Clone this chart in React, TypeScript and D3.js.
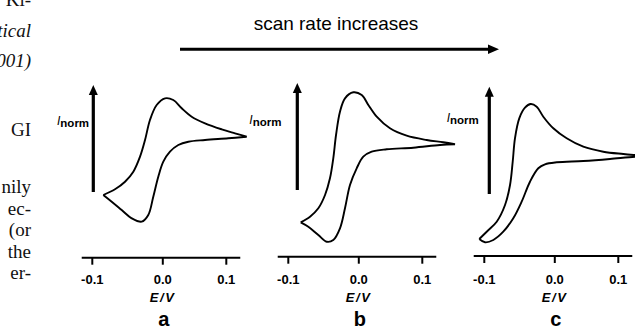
import React from 'react';
import * as d3 from 'd3';

type Pt = [number, number];

// E (V) vs normalised current
const aForward: Pt[] = [
  [-0.0844, -1.1], [-0.0678, -0.986], [-0.0536, -0.834], [-0.0418, -0.634], [-0.0323, -0.334],
  [-0.0252, 0], [-0.0182, 0.4], [-0.0087, 0.7], [0.0035, 0.834], [0.0165, 0.8], [0.0298, 0.634],
  [0.0455, 0.466], [0.0665, 0.334], [0.0928, 0.214], [0.1137, 0.134], [0.1321, 0.066],
];
const aReverse: Pt[] = [
  [0.1321, 0.066], [0.1031, 0.034], [0.0665, 0], [0.0402, -0.034], [0.0244, -0.1], [0.0113, -0.234],
  [0.0008, -0.434], [-0.0064, -0.734], [-0.0135, -1.134], [-0.0206, -1.5], [-0.0299, -1.634],
  [-0.0441, -1.566], [-0.0583, -1.4], [-0.0725, -1.234], [-0.0844, -1.1],
];
const bForward: Pt[] = [
  [-0.0824, -1.646], [-0.0692, -1.534], [-0.0574, -1.366], [-0.0479, -1.1], [-0.0409, -0.766],
  [-0.0362, -0.366], [-0.0323, 0.1], [-0.0267, 0.566], [-0.0196, 0.834], [-0.0078, 0.954],
  [0.0046, 0.9], [0.015, 0.7], [0.0282, 0.466], [0.0491, 0.234], [0.0754, 0.086], [0.1069, 0],
  [0.1331, -0.046], [0.1515, -0.086],
];
const bReverse: Pt[] = [
  [0.1515, -0.086], [0.1279, -0.1], [0.0858, -0.154], [0.0439, -0.186], [0.0203, -0.234],
  [0.0071, -0.334], [-0.003, -0.566], [-0.0125, -0.9], [-0.0196, -1.366], [-0.0267, -1.766],
  [-0.0362, -2.0], [-0.0455, -2.034], [-0.0574, -1.9], [-0.0716, -1.734], [-0.0824, -1.646],
];
const cForward: Pt[] = [
  [-0.1071, -1.98], [-0.0966, -1.834], [-0.0824, -1.634], [-0.0706, -1.3], [-0.0635, -0.9],
  [-0.0597, -0.434], [-0.0565, 0.034], [-0.0504, 0.434], [-0.0423, 0.646], [-0.0342, 0.72],
  [-0.0257, 0.666], [-0.0163, 0.466], [-0.0021, 0.234], [0.0187, 0.034], [0.0449, -0.134],
  [0.0764, -0.234], [0.1079, -0.28], [0.1342, -0.31], [0.15, -0.33],
];
const cReverse: Pt[] = [
  [0.15, -0.33], [0.1263, -0.334], [0.0869, -0.38], [0.0449, -0.42], [0.003, -0.446],
  [-0.0139, -0.486], [-0.0234, -0.566], [-0.0352, -0.834], [-0.047, -1.234], [-0.0589, -1.566],
  [-0.0731, -1.834], [-0.0872, -2.0], [-0.099, -2.046], [-0.1071, -1.98],
];

const tickValues = [-0.1, 0, 0.1];
const tickLabels = ['-0.1', '0.0', '0.1'];
const panelLabels = ['a', 'b', 'c'];
const title = 'scan rate increases';
// fragments of the page text cut off at the left edge
const sideText = ['Ki-', 'tical', '001)', 'GI', 'nily', 'ec-', '(or', 'the', 'er-'];

const curves = [
  [aForward, aReverse],
  [bForward, bReverse],
  [cForward, cReverse],
];

const panels = [
  { left: 92.3, axisY: 257.7, arrowX: 93.3, arrowTop: 85, arrowBottom: 192, labelX: 57, labelY: 125 },
  { left: 288.3, axisY: 256.7, arrowX: 297.3, arrowTop: 83, arrowBottom: 190, labelX: 249.3, labelY: 124 },
  { left: 484.3, axisY: 256, arrowX: 489.3, arrowTop: 86.7, arrowBottom: 194, labelX: 446.7, labelY: 122 },
];

const sideY = [6, 37, 67, 136, 193, 214.5, 236, 257.5, 279];
const sideItalic = [false, true, true, false, false, false, false, false, false];

const sans = '"Liberation Sans", Arial, sans-serif';

export default function App() {
  // shared piecewise scale: ticks in the scan are not evenly spaced
  const x = d3.scaleLinear().domain([-0.1, 0, 0.1]).range([0, 70.5, 134]);
  const y = d3.scaleLinear().domain([-2, 1]).range([240, 90]);
  const line = d3
    .line<Pt>()
    .x((d) => x(d[0]))
    .y((d) => y(d[1]))
    .curve(d3.curveCatmullRom.alpha(0.5));

  return (
    <svg
      width={635}
      height={327}
      style={{ position: 'absolute', left: 0, top: 0, background: '#fff' }}
    >
      {sideText.map((t, i) => (
        <text
          key={t}
          x={31}
          y={sideY[i]}
          textAnchor="end"
          fontFamily='"Liberation Serif", "Times New Roman", serif'
          fontSize={19}
          fontStyle={sideItalic[i] ? 'italic' : 'normal'}
          fill="#111"
        >
          {t}
        </text>
      ))}

      <text x={336} y={30} textAnchor="middle" fontFamily={sans} fontSize={19} fill="#000">
        {title}
      </text>
      <line x1={180} x2={490} y1={49.3} y2={49.3} stroke="#000" strokeWidth={3} />
      <polygon points="499,49.3 488,44.5 488,54.1" fill="#000" />

      {panels.map((p, i) => (
        <g key={i}>
          <line x1={p.arrowX} x2={p.arrowX} y1={p.arrowBottom} y2={p.arrowTop + 8} stroke="#000" strokeWidth={3.2} />
          <polygon
            points={`${p.arrowX},${p.arrowTop} ${p.arrowX - 4.5},${p.arrowTop + 10} ${p.arrowX + 4.5},${p.arrowTop + 10}`}
            fill="#000"
          />
          <text x={p.labelX} y={p.labelY} fontFamily={sans} fill="#000">
            <tspan fontStyle="italic" fontSize={12}>I</tspan>
            <tspan fontWeight="bold" fontSize={11.5} dy={1.5}>norm</tspan>
          </text>

          <g transform={`translate(${p.left},0)`}>
            <path
              d={(line(curves[i][0]) || '') + (line(curves[i][1]) || '').replace(/^M/, 'L')}
              fill="none"
              stroke="#000"
              strokeWidth={1.9}
              strokeLinejoin="miter"
            />
            <line x1={x(-0.115)} x2={x(0.122)} y1={p.axisY} y2={p.axisY} stroke="#000" strokeWidth={2} />
            {tickValues.map((v, j) => (
              <g key={v} transform={`translate(${x(v)},0)`}>
                <line y1={p.axisY} y2={p.axisY + 7} stroke="#000" strokeWidth={2} />
                <text y={283.5} textAnchor="middle" fontFamily={sans} fontWeight="bold" fontSize={13} fill="#000">
                  {tickLabels[j]}
                </text>
              </g>
            ))}
            <text
              x={x(0) - 1}
              y={302}
              textAnchor="middle"
              fontFamily={sans}
              fontStyle="italic"
              fontWeight="bold"
              fontSize={13}
              wordSpacing={-2}
              fill="#000"
            >
              E / V
            </text>
            <text x={x(0) + 1} y={326} textAnchor="middle" fontFamily={sans} fontWeight="bold" fontSize={20} fill="#000">
              {panelLabels[i]}
            </text>
          </g>
        </g>
      ))}
    </svg>
  );
}
